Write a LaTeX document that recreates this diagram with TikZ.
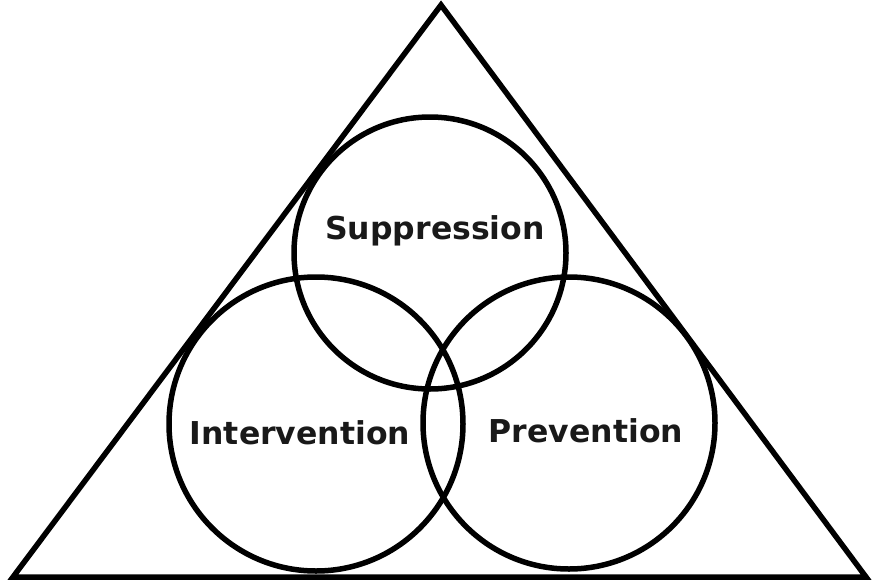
\documentclass[tikz,border=0pt]{standalone}
\usepackage{fontspec}
\setmainfont{DejaVu Sans}
\begin{document}
\begin{tikzpicture}[x=1pt,y=-1pt,
  ring/.style={draw=black,line width=5.5pt,circle,inner sep=0pt},
  lbl/.style={font=\bfseries\fontsize{31.5}{36}\selectfont,text=black!90,inner sep=0pt}]
\useasboundingbox (0,0) rectangle (873,581);
\coordinate (apex) at (441,5);
\coordinate (bl) at (13,577);
\coordinate (br) at (866,577);
\draw[line width=5.5pt,line join=miter] (apex) -- (bl) -- (br) -- cycle;
\node[ring,minimum size=272pt] (sup) at (430,253) {};
\node[ring,minimum size=294pt] (int) at (316,424) {};
\node[ring,minimum size=292pt] (pre) at (569,423) {};
\node[lbl] (tsup) at (435,231) {Suppression};
\node[lbl] (tint) at (300,433) {Intervention};
\node[lbl] (tpre) at (586,431) {Prevention};
\end{tikzpicture}
\end{document}
